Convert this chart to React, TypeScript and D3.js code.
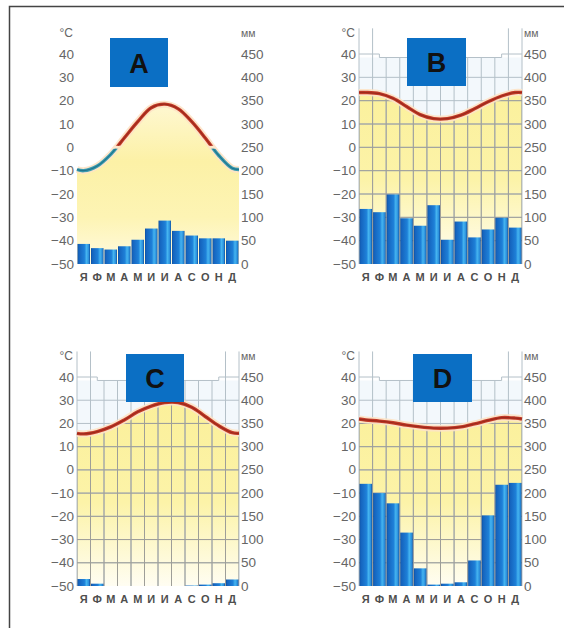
import React from "react";
import * as d3 from "d3";

const months = ["Я", "Ф", "М", "А", "М", "И", "И", "А", "С", "О", "Н", "Д"];
const tempTicks = [40, 30, 20, 10, 0, -10, -20, -30, -40, -50];
const precipTicks = [450, 400, 350, 300, 250, 200, 150, 100, 50, 0];
const gridTemps = [-40, -30, -20, -10, 0, 10, 20, 30];

const tempA = [-10, -8, -3, 4, 11, 17, 18.5, 16.5, 11, 4, -3.5, -9];
const precipA = [43, 34, 31, 38, 52, 76, 93, 71, 61, 55, 55, 50];

const tempB = [23.5, 23, 21, 17.5, 14, 12.3, 12.3, 13.8, 16.5, 19.5, 22, 23.5];
const precipB = [118, 111, 149, 98, 82, 126, 52, 91, 57, 74, 99, 78];

const tempC = [15.5, 16.5, 18.5, 21.5, 25, 27.5, 29, 29, 27, 23, 19, 16];
const precipC = [15, 5, 0, 0, 0, 0, 0, 0, 1, 3, 6, 14];

const tempD = [21.5, 21, 20.3, 19.3, 18.5, 18, 18, 18.5, 19.8, 21.3, 22.5, 22.3];
const precipD = [220, 200, 178, 115, 38, 3, 5, 8, 55, 152, 218, 222];

type Panel = {
  id: string;
  temps: number[];
  precip: number[];
  x0: number;
  x1: number;
  yTop: number;
  yBot: number;
  box: [number, number, number, number];
  grid: boolean;
};

const panels: Panel[] = [
  { id: "A", temps: tempA, precip: precipA, x0: 77, x1: 239, yTop: 54, yBot: 264, box: [110, 38, 58, 49], grid: false },
  { id: "B", temps: tempB, precip: precipB, x0: 359, x1: 522, yTop: 54, yBot: 264, box: [407, 38, 59, 48], grid: true },
  { id: "C", temps: tempC, precip: precipC, x0: 77, x1: 239, yTop: 377, yBot: 586, box: [126, 354, 58, 48], grid: true },
  { id: "D", temps: tempD, precip: precipD, x0: 359, x1: 522, yTop: 377, yBot: 586, box: [413, 354, 59, 48], grid: true },
];

const FONT = "'Liberation Sans', Arial, sans-serif";
const LABEL = "#666";

function fmt(v: number) {
  return v < 0 ? "\u2212" + Math.abs(v) : String(v);
}

function PanelView({ p }: { p: Panel }) {
  const x = d3.scaleLinear().domain([0, 12]).range([p.x0, p.x1]);
  const y = d3.scaleLinear().domain([-50, 40]).range([p.yBot, p.yTop]);
  const yP = d3.scaleLinear().domain([0, 450]).range([p.yBot, p.yTop]);
  const edge = (p.temps[0] + p.temps[11]) / 2;
  const pts: [number, number][] = [[0, edge], ...p.temps.map((t, i) => [i + 0.5, t] as [number, number]), [12, edge]];
  const curve = d3.curveCatmullRom.alpha(0.5);
  const line = d3.line<[number, number]>().x((d) => x(d[0])).y((d) => y(d[1])).curve(curve);
  const area = d3
    .area<[number, number]>()
    .x((d) => x(d[0]))
    .y0(p.yBot)
    .y1((d) => y(d[1]))
    .curve(curve);
  const id = p.id;
  const bounds = d3.range(13);
  const topExt = y(51);
  const step = y(38.5);

  const gridLines = (color: string) => (
    <g stroke={color} strokeWidth={1} fill="none">
      {gridTemps.map((t) => (
        <line key={"h" + t} x1={p.x0} x2={p.x1} y1={y(t)} y2={y(t)} />
      ))}
      {bounds.map((b) => (
        <line
          key={"v" + b}
          x1={x(b)}
          x2={x(b)}
          y1={p.yBot}
          y2={b <= 1 || b >= 11 ? topExt : step}
        />
      ))}
      <polyline points={`${x(0)},${y(40)} ${x(1.5)},${y(40)} ${x(1.5)},${step} ${x(10.5)},${step} ${x(10.5)},${y(40)} ${x(12)},${y(40)}`} />
    </g>
  );

  return (
    <g>
      <defs>
        <linearGradient id={"fill" + id} gradientUnits="userSpaceOnUse" x1={0} x2={0} y1={y(30)} y2={p.yBot}>
          {id === "A" ? (
            <>
              <stop offset="0" stopColor="#fffbe6" />
              <stop offset="0.45" stopColor="#fcf1a6" />
              <stop offset="0.75" stopColor="#fdf4b4" />
              <stop offset="1" stopColor="#fffae0" />
            </>
          ) : (
            <>
              <stop offset="0" stopColor="#fbf09a" />
              <stop offset="0.55" stopColor="#fcf3a8" />
              <stop offset="1" stopColor="#fffdf2" />
            </>
          )}
        </linearGradient>
        <clipPath id={"under" + id}>
          <path d={area(pts) || ""} />
        </clipPath>
        <clipPath id={"warm" + id}>
          <rect x={p.x0 - 10} y={0} width={p.x1 - p.x0 + 20} height={y(0) - 1.5} />
        </clipPath>
        <clipPath id={"cold" + id}>
          <rect x={p.x0 - 10} y={y(0) + 1.5} width={p.x1 - p.x0 + 20} height={400} />
        </clipPath>
      </defs>

      {p.grid && <rect x={p.x0} y={step} width={p.x1 - p.x0} height={y(10) - step} fill="#f3f8fc" />}
      <path d={area(pts) || ""} fill={`url(#fill${id})`} />
      {p.grid && gridLines("#b4c0c8")}
      {p.grid && <g clipPath={`url(#under${id})`}>{gridLines("#9e9e98")}</g>}

      {p.precip.map((v, i) => (
        <rect
          key={i}
          x={x(i) + 0.5}
          y={yP(v)}
          width={x(i + 1) - x(i) - 1}
          height={p.yBot - yP(v)}
          fill="url(#barGrad)"
        />
      ))}

      <path d={line(pts) || ""} fill="none" stroke="#fde3c6" strokeWidth={7} opacity={0.9} />
      <g clipPath={id === "A" ? `url(#warm${id})` : undefined}>
        <path d={line(pts) || ""} fill="none" stroke="#c23a28" strokeWidth={3.4} />
        <path d={line(pts) || ""} fill="none" stroke="#9c2a1c" strokeWidth={1.2} />
      </g>
      {id === "A" && (
        <g clipPath={`url(#cold${id})`}>
          <path d={line(pts) || ""} fill="none" stroke="#3b9cb2" strokeWidth={3.4} />
          <path d={line(pts) || ""} fill="none" stroke="#21768c" strokeWidth={1.2} />
        </g>
      )}

      <rect x={p.box[0]} y={p.box[1]} width={p.box[2]} height={p.box[3]} fill="#0b6fc4" />
      <text
        x={p.box[0] + p.box[2] / 2}
        y={p.box[1] + p.box[3] / 2 + 1}
        textAnchor="middle"
        dominantBaseline="central"
        fontFamily={FONT}
        fontWeight="bold"
        fontSize={27}
        fill="#111"
      >
        {id}
      </text>

      <g fontFamily={FONT} fontSize={13.5} fill={LABEL}>
        {tempTicks.map((t) => (
          <text key={t} x={p.x0 - 3} y={y(t)} textAnchor="end" dominantBaseline="central">
            {fmt(t)}
          </text>
        ))}
        {precipTicks.map((m) => (
          <text key={m} x={p.x1 + 2} y={yP(m)} textAnchor="start" dominantBaseline="central">
            {m}
          </text>
        ))}
        <text x={p.x0 - 4} y={p.yTop - 21} textAnchor="end" dominantBaseline="central" fontSize={12}>
          °C
        </text>
        <text x={p.x1 + 2} y={p.yTop - 21} textAnchor="start" dominantBaseline="central" fontSize={10.5}>
          мм
        </text>
      </g>
      <g fontFamily={FONT} fontSize={11} fontWeight="bold" fill="#4e4e4e">
        {months.map((m, i) => (
          <text key={i} x={x(i + 0.5)} y={p.yBot + 13} textAnchor="middle" dominantBaseline="central">
            {m}
          </text>
        ))}
      </g>
    </g>
  );
}

export default function App() {
  return (
    <svg
      width={564}
      height={628}
      viewBox="0 0 564 628"
      style={{ position: "absolute", left: 0, top: 0, background: "#fff" }}
    >
      <defs>
        <linearGradient id="barGrad" x1="0" x2="1" y1="0" y2="0">
          <stop offset="0" stopColor="#0d4f9e" />
          <stop offset="0.1" stopColor="#1563bd" />
          <stop offset="0.55" stopColor="#1e80d8" />
          <stop offset="0.72" stopColor="#45b4f0" />
          <stop offset="0.9" stopColor="#2a8fdc" />
          <stop offset="1" stopColor="#0d4f9e" />
        </linearGradient>
      </defs>
      <rect x={0} y={0} width={564} height={628} fill="#fff" />
      <path d="M9.5,628 L9.5,6.5 L564,6.5" fill="none" stroke="#444" strokeWidth={1.5} />
      {panels.map((p) => (
        <PanelView key={p.id} p={p} />
      ))}
    </svg>
  );
}
